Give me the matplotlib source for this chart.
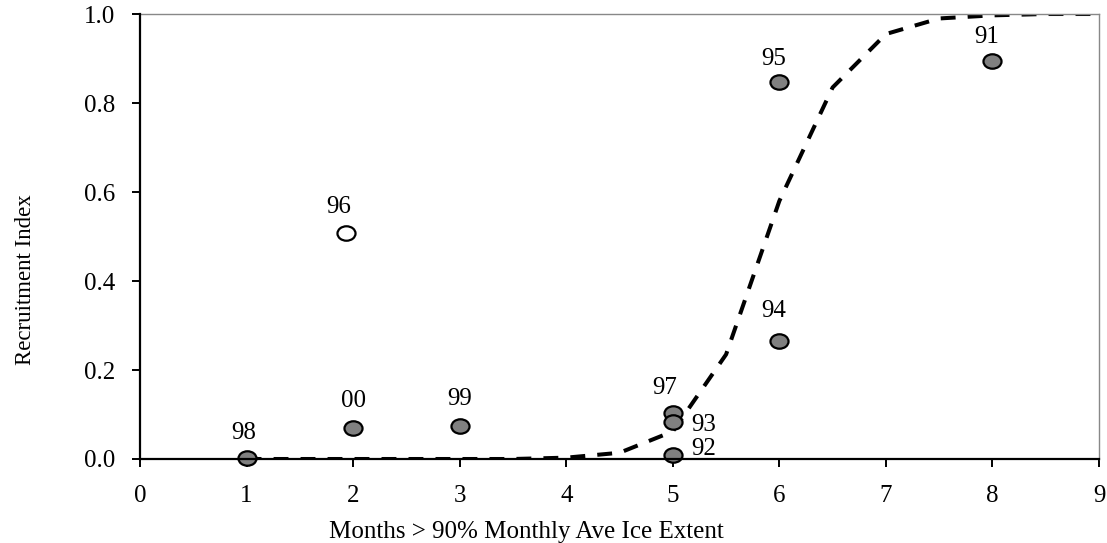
import numpy as np
import matplotlib
matplotlib.use("Agg")
import matplotlib.pyplot as plt
from matplotlib.path import Path

plt.rcParams["font.family"] = ["Liberation Serif", "DejaVu Serif"]

# observed years: months of high ice extent v. recruitment index
years = ["98", "00", "99", "97", "93", "92", "94", "95", "91"]
months = [1, 2, 3, 5, 5, 5, 6, 6, 8]
recruit = [0.003, 0.07, 0.075, 0.103, 0.083, 0.009, 0.266, 0.848, 0.895]

# the odd year out (open symbol)
odd_year = "96"
odd_month = 1.93
odd_recruit = 0.508

# fitted curve
fit_x = [1.0, 1.5, 2.0, 2.5, 3.0, 3.5, 4.0, 4.5, 5.0, 5.5, 6.0, 6.5, 7.0, 7.5, 8.0, 8.5, 9.0]
fit_y = [0.0, 0.0, 0.0, 0.0, 0.0, 0.0, 0.003, 0.014, 0.062, 0.235, 0.58, 0.835, 0.955, 0.99, 0.997, 1.0, 1.0]

# label offsets (points) for each year
offsets = {"98": (-2, 18), "00": (0, 19), "99": (0, 19), "97": (-6, 18),
           "93": (22, -2), "92": (22, 4), "94": (-4, 21), "95": (-4, 16),
           "91": (-4, 17), "96": (-5, 19)}

# slightly flattened circle, like the original symbols
c = Path.unit_circle()
ell = Path(c.vertices * np.array([1.0, 0.8]), c.codes)

fig = plt.figure(figsize=(11.07, 5.43), dpi=100)
ax = fig.add_axes([0.1265, 0.1547, 0.8663, 0.8195])

ax.plot(fit_x, fit_y, color="black", lw=2.9, dashes=(3.7, 3.0), zorder=2)
ax.plot(months, recruit, ls="none", marker=ell, ms=13, mfc="#808080",
        mec="black", mew=1.6, zorder=3, clip_on=False)
ax.plot([odd_month], [odd_recruit], ls="none", marker=ell, ms=13,
        mfc="white", mec="black", mew=1.6, zorder=3)

for yr, mx, ry in zip(years, months, recruit):
    ax.annotate(yr, (mx, ry), xytext=offsets[yr], textcoords="offset points",
                ha="center", va="center", fontsize=18, zorder=4)
ax.annotate(odd_year, (odd_month, odd_recruit), xytext=offsets[odd_year],
            textcoords="offset points", ha="center", va="center", fontsize=18)

ax.set_xlim(0, 9)
ax.set_ylim(0, 1.0)
ax.set_xticks(range(0, 10))
ax.set_yticks([0.0, 0.2, 0.4, 0.6, 0.8, 1.0])
ax.set_yticklabels(["%0.1f" % v for v in [0.0, 0.2, 0.4, 0.6, 0.8, 1.0]])

for side in ["left", "bottom"]:
    ax.spines[side].set_linewidth(1.6)
    ax.spines[side].set_color("black")
for side in ["top", "right"]:
    ax.spines[side].set_linewidth(1.0)
    ax.spines[side].set_color("#888888")
ax.spines["left"].set_zorder(5)
ax.spines["bottom"].set_zorder(5)

ax.tick_params(axis="both", direction="out", length=6, width=1.4,
               labelsize=18, colors="black")
ax.tick_params(axis="y", pad=12)
ax.tick_params(axis="x", pad=13)

ax.set_xlabel("Months > 90% Monthly Ave Ice Extent", fontsize=18)
ax.set_ylabel("Recruitment Index", fontsize=16.5)
ax.xaxis.set_label_coords(0.403, -0.140)
ax.yaxis.set_label_coords(-0.108, 0.404)

fig.savefig("out.png", dpi=100)
